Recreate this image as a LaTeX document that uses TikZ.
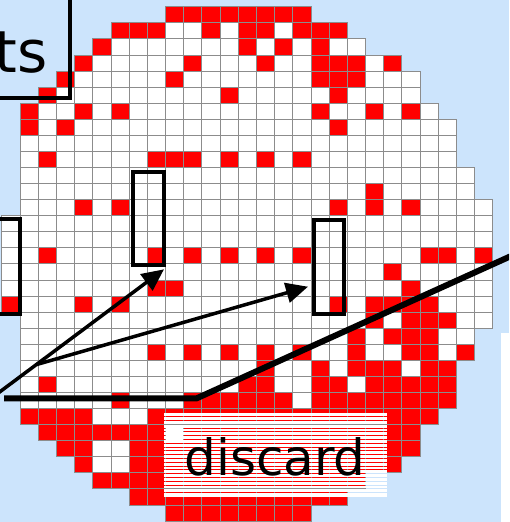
\documentclass[tikz,border=0pt]{standalone}
\usepackage{fontspec}
\newfontfamily\dejavu{DejaVu Sans}
\usetikzlibrary{arrows.meta}
\definecolor{bgblue}{RGB}{204,228,252}
\definecolor{cellred}{RGB}{255,0,0}
\definecolor{gridgray}{RGB}{140,140,140}
\tikzset{
  cellbox/.style={draw=gridgray, line width=0.7pt},
  selbox/.style={draw=black, line width=4pt, fill=none, inner sep=0pt},
  arrowline/.style={draw=black, line width=3.5pt, -{Triangle[length=22pt,width=20pt]}},
  cutline/.style={draw=black, line width=6pt},
}
\newcommand{\cw}{18.18}
\newcommand{\ch}{16.07}
\begin{document}
\begin{tikzpicture}[x=1pt,y=-1pt]
\fill[bgblue] (0,0) rectangle (509,522);
\useasboundingbox (0,0) rectangle (509,522);
\clip (0,0) rectangle (509,522);
\fill[white] (501,333) rectangle (509,522);
% wafer cells: row/first column/last column
\foreach \r/\a/\b in {0/8/15,1/5/17,2/4/18,3/3/20,4/2/21,5/1/21,6/0/22,7/0/23,8/0/23,9/0/23,
  10/0/24,11/0/24,12/0/25,13/-1/25,14/-1/25,15/-1/25,16/-1/25,17/-1/25,18/-1/25,19/0/25,
  20/0/24,21/0/24,22/0/23,23/0/23,24/0/23,25/0/22,26/1/21,27/2/21,28/3/20,29/4/18,30/6/17,31/8/15}{
  \foreach \c in {\a,...,\b}{
    \fill[white] ({20+\cw*\c},{6.7+\ch*\r}) rectangle ++(\cw,\ch);
  }
}
% defective cells
\foreach \r/\cols in {
  0/{8,9,10,11,12,13,14,15},
  1/{5,6,7,10,12,13,15,16,17},
  2/{4,12,14,16},
  3/{3,9,13,16,17,18,20},
  4/{2,8,16,17,18},
  5/{1,11,17},
  6/{0,3,5,16,19,21},
  7/{0,2,17},
  9/{1,7,8,9,11,13,15},
  11/{19},
  12/{3,5,17,19,21},
  15/{1,7,9,11,13,15,22,23,25},
  16/{20},
  17/{7,8,21},
  18/{-1,3,5,17,19,20,21,22},
  19/{19,21,22,23},
  20/{18,20,21,22},
  21/{7,9,11,13,15,18,21,22,24},
  22/{13,16,18,19,20,22,23},
  23/{1,12,13,16,17,19,20,21,22,23},
  24/{5,9,10,11,12,13,14,16,17,18,19,20,21,22,23},
  25/{0,1,2,3,7,8,9,10,11,12,13,14,15,16,17,18,19,20,21,22},
  26/{1,2,3,4,5,6,7,9,10,11,12,13,14,15,16,17,18,19,20,21},
  27/{2,3,6,7,8,9,10,11,12,13,14,15,16,17,18,19,20,21},
  28/{3,6,7,8,9,10,11,12,13,14,15,16,17,18,19,20},
  29/{4,5,6,7,8,9,10,11,12,13,14,15,16,17,18},
  30/{6,7,8,9,10,11,12,13,14,15,16,17},
  31/{8,9,10,11,12,13,14,15}}{
  \foreach \c in \cols{
    \fill[cellred] ({20+\cw*\c},{6.7+\ch*\r}) rectangle ++(\cw,\ch);
  }
}
% grid lines
\foreach \r/\a/\b in {0/8/15,1/5/17,2/4/18,3/3/20,4/2/21,5/1/21,6/0/22,7/0/23,8/0/23,9/0/23,
  10/0/24,11/0/24,12/0/25,13/-1/25,14/-1/25,15/-1/25,16/-1/25,17/-1/25,18/-1/25,19/0/25,
  20/0/24,21/0/24,22/0/23,23/0/23,24/0/23,25/0/22,26/1/21,27/2/21,28/3/20,29/4/18,30/6/17,31/8/15}{
  \foreach \c in {\a,...,\b}{
    \draw[cellbox] ({20+\cw*\c},{6.7+\ch*\r}) rectangle ++(\cw,\ch);
  }
}
% discard label with striped backing
\foreach \i in {0,...,21}{
  \fill[white] (164,{413.3+3.8*\i}) rectangle (387.3,{413.3+3.8*\i+2.8});
}
\fill[white] (164,494.9) rectangle (387.3,496.7);
\node[anchor=base, inner sep=0pt, font=\dejavu\fontsize{50}{50}\selectfont] (discardlbl) at (275,475) {discard};
% title box fragment
\node[selbox, minimum width=100pt, minimum height=118pt] (titlebox) at (20,39) {};
\node[anchor=base east, inner sep=0pt, font=\dejavu\fontsize{58}{58}\selectfont] (titletext) at (48,72) {ts};
% selection boxes
\node[selbox, minimum width=50pt, minimum height=95.3pt] (selL) at (-5.3,266.35) {};
\node[selbox, minimum width=30.7pt, minimum height=92.7pt] (sel1) at (148.35,218.35) {};
\node[selbox, minimum width=29.4pt, minimum height=94.3pt] (sel2) at (329,266.85) {};
% arrows
\coordinate (src) at (-2,393.2);
\coordinate (fork) at (36.7,364.5);
\coordinate (tip1) at (164,269.3);
\coordinate (tip2) at (308,286.7);
\draw[arrowline] (src) -- (tip1);
\draw[arrowline] (fork) -- (tip2);
% cut line
\coordinate (cutA) at (4,398.3);
\coordinate (cutB) at (196.7,398.3);
\coordinate (cutC) at (512,255.6);
\draw[cutline] (cutA) -- (cutB) -- (cutC);
\end{tikzpicture}
\end{document}
